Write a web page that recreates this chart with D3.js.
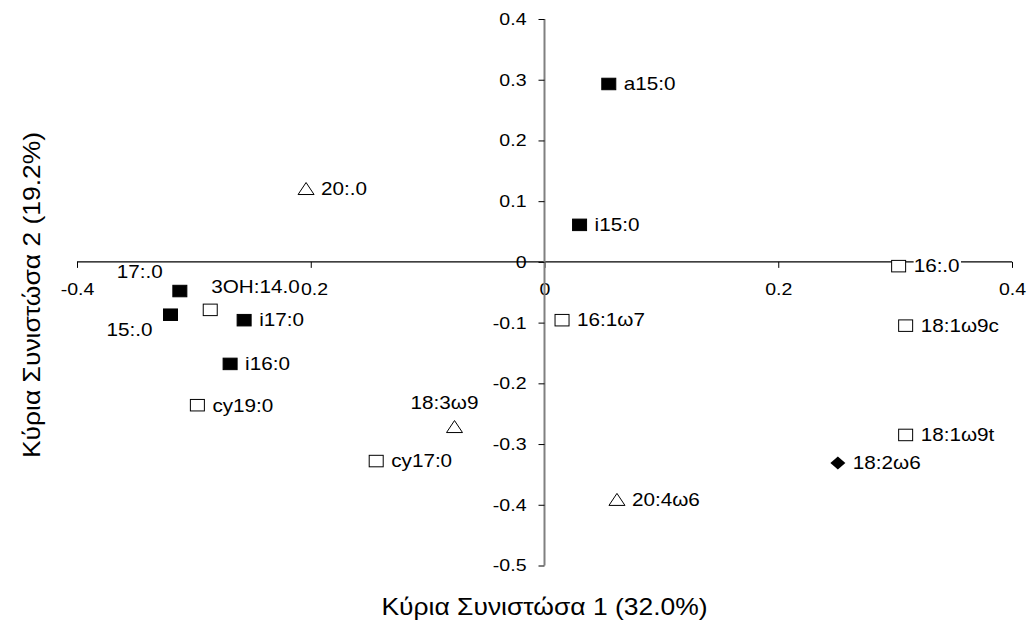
<!DOCTYPE html>
<html>
<head>
<meta charset="utf-8">
<script src="https://cdn.jsdelivr.net/npm/d3@7"></script>
<style>
body { margin: 0; background: #fff; }
text { font-family: "Liberation Sans", Arial, sans-serif; fill: #000; }
</style>
</head>
<body>
<svg width="1027" height="638"></svg>
<script>
/********** Data **********/
var names  = ["a15:0", "i15:0", "20:.0", "17:.0", "15:.0", "3OH:14.0", "i17:0", "i16:0", "cy19:0",
              "18:3ω9", "cy17:0", "16:1ω7", "20:4ω6", "16:.0", "18:1ω9c", "18:1ω9t", "18:2ω6"];
var pc1    = [0.055, 0.030, -0.204, -0.312, -0.320, -0.286, -0.257, -0.269, -0.297,
              -0.077, -0.144, 0.015, 0.062, 0.303, 0.309, 0.309, 0.251];
var pc2    = [0.293, 0.061, 0.120, -0.048, -0.087, -0.079, -0.096, -0.168, -0.236,
              -0.272, -0.328, -0.096, -0.392, -0.007, -0.105, -0.285, -0.331];
// marker kind: 1 = filled square, 2 = open square, 3 = open triangle, 4 = filled diamond
var groups = [1, 1, 3, 1, 1, 2, 1, 1, 2,
              3, 2, 2, 3, 2, 2, 2, 4];
var xTicks = [-0.4, -0.2, 0, 0.2, 0.4];
var yTicks = [0.4, 0.3, 0.2, 0.1, 0, -0.1, -0.2, -0.3, -0.4, -0.5];
var xTitle = "Κύρια Συνιστώσα 1 (32.0%)";
var yTitle = "Κύρια Συνιστώσα 2 (19.2%)";

/********** Layout **********/
var svg = d3.select("svg");
var SX = 1.15;   // text in the picture is a bit wide

var x = d3.scaleLinear().domain([-0.4, 0.4]).range([77, 1012]);
var y = d3.scaleLinear().domain([-0.5, 0.4]).range([565.5, 19]);

function fmt(d) { return d === 0 ? "0" : d.toFixed(1); }   // plain hyphen minus

function stretchText(sel) {
    sel.each(function() {
        var t = d3.select(this);
        var tx = +t.attr("x") || 0;
        t.attr("x", tx / SX).attr("transform", "scale(" + SX + ",1)");
    });
}

// x axis (crosses at y = 0)
var xAxis = svg.append("g")
    .attr("transform", "translate(0," + y(0) + ")")
    .call(d3.axisBottom(x).tickValues(xTicks).tickSize(6).tickPadding(15).tickFormat(fmt));
xAxis.select(".domain").attr("stroke", "#000").attr("stroke-width", 1.2).attr("d", "M" + x(-0.4) + ",0H" + x(0.4));
xAxis.selectAll(".tick line").attr("stroke", "#000");
xAxis.selectAll("text").style("font-size", "17px");
stretchText(xAxis.selectAll("text"));
xAxis.attr("font-family", null);

// y axis (crosses at x = 0)
var yAxis = svg.append("g")
    .attr("transform", "translate(" + x(0) + ",0)")
    .call(d3.axisLeft(y).tickValues(yTicks).tickSize(6).tickPadding(12).tickFormat(fmt));
yAxis.select(".domain").attr("stroke", "#808080").attr("stroke-width", 2)
    .attr("d", "M0," + y(0.4) + "V" + y(-0.5));
yAxis.selectAll(".tick line").attr("stroke", "#000");
yAxis.selectAll("text").style("font-size", "17px");
stretchText(yAxis.selectAll("text"));
yAxis.attr("font-family", null);

/********** Points **********/
var points = names.map(function(n, i) {
    return {name: n, px: x(pc1[i]), py: y(pc2[i]), g: groups[i]};
});

var marks = svg.append("g").selectAll("g")
    .data(points)
    .enter().append("g")
    .attr("transform", function(d) { return "translate(" + d.px + "," + d.py + ")"; });

marks.filter(function(d) { return d.g === 1 || d.g === 2; })
    .append("rect")
    .attr("x", -7).attr("y", -5.75)
    .attr("width", 14).attr("height", 11.5)
    .attr("fill", function(d) { return d.g === 1 ? "#000" : "#fff"; })
    .attr("stroke", "#000").attr("stroke-width", 1);

marks.filter(function(d) { return d.g === 3; })
    .append("path")
    .attr("d", "M0,-6.5L8,5.5L-8,5.5Z")
    .attr("fill", "#fff").attr("stroke", "#000").attr("stroke-width", 1);

marks.filter(function(d) { return d.g === 4; })
    .append("path")
    .attr("d", "M0,-6.5L7.5,0L0,6.5L-7.5,0Z")
    .attr("fill", "#000");

// label placement: default to the right of the marker
var labelPos = {
    "17:.0":    {dx: -17, dy: -19, a: "end"},
    "15:.0":    {dx: -18, dy: 15, a: "end"},
    "3OH:14.0": {dx: 1, dy: -23, a: "start"},
    "18:3ω9":   {dx: -10, dy: -24, a: "middle"}
};

var labels = svg.append("g").selectAll("g")
    .data(points)
    .enter().append("g")
    .attr("transform", function(d) {
        var p = labelPos[d.name] || {dx: 15, dy: 0};
        return "translate(" + (d.px + p.dx) + "," + (d.py + p.dy) + ") scale(" + SX + ",1)";
    });

labels.append("text")
    .attr("text-anchor", function(d) { return (labelPos[d.name] || {a: "start"}).a; })
    .attr("dy", "0.35em")
    .style("font-size", "18px")
    .text(function(d) { return d.name; });

labels.each(function() {
    var g = d3.select(this);
    var b = g.select("text").node().getBBox();
    g.insert("rect", "text")
        .attr("x", b.x).attr("y", b.y + 2)
        .attr("width", b.width + 1).attr("height", b.height - 3)
        .attr("fill", "#fff");
});

/********** Titles **********/
svg.append("text")
    .attr("transform", "translate(" + x(0) + ",615) scale(" + SX + ",1)")
    .attr("text-anchor", "middle")
    .style("font-size", "23px")
    .text(xTitle);

svg.append("text")
    .attr("transform", "translate(40,295) rotate(-90) scale(" + SX + ",1)")
    .attr("text-anchor", "middle")
    .style("font-size", "23px")
    .text(yTitle);
</script>
</body>
</html>
